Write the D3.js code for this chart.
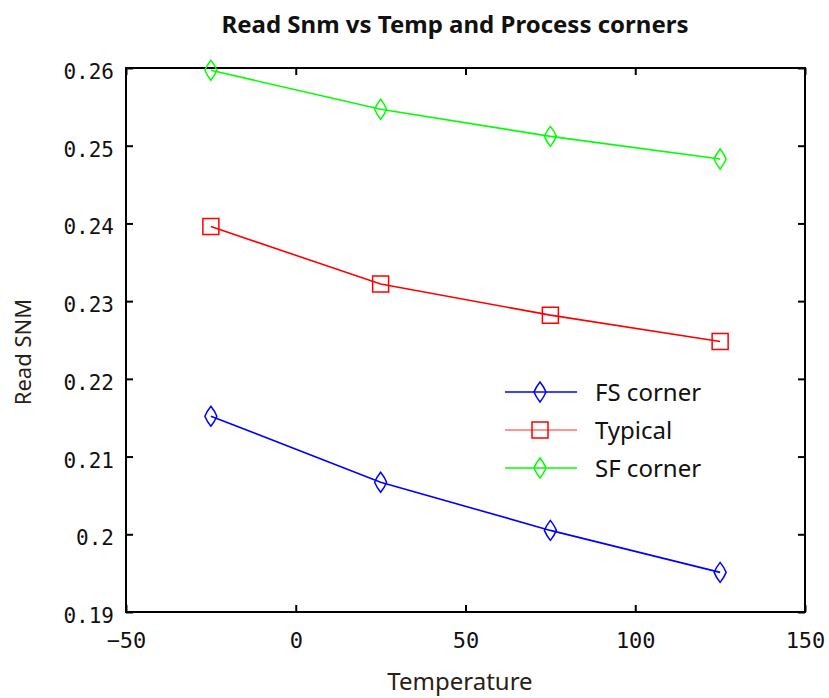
<!DOCTYPE html>
<html>
<head>
<meta charset="utf-8">
<script src="https://d3js.org/d3.v7.min.js"></script>
<style>
  body { margin: 0; background: #fff; }
  .title { font-family: "Liberation Sans Narrow", "Noto Sans", sans-serif; font-weight: bold; font-size: 24px; fill: #111; text-anchor: middle; }
  .ylab text { font-family: "DejaVu Sans Mono", monospace; font-size: 21px; fill: #111; }
  .xlab text { font-family: "DejaVu Sans Mono", monospace; font-size: 22px; fill: #111; }
  .axis path { display: none; }
  .axis line { stroke: #000; stroke-width: 2px; }
  .axisTitle { font-family: "Noto Sans", sans-serif; fill: #2b2016; }
  .legend text { font-family: "Noto Sans", sans-serif; font-size: 24px; fill: #111; }
</style>
</head>
<body>
<script>

// data
var temps = [-25, 25, 75, 125];
var fsCorner = [0.2152, 0.2067, 0.2005, 0.1951];
var typical = [0.2396, 0.2322, 0.2282, 0.2248];
var sfCorner = [0.2597, 0.2547, 0.2512, 0.2483];

var seriesNames = ["FS corner", "Typical", "SF corner"];
var xTicks = [-50, 0, 50, 100, 150];
var yTicks = [0.19, 0.2, 0.21, 0.22, 0.23, 0.24, 0.25, 0.26];
var yTickLabels = ["0.19", "0.2", "0.21", "0.22", "0.23", "0.24", "0.25", "0.26"];

var W = 829, H = 698;
var plot = { left: 126, right: 805, top: 68, bottom: 612 };

var svg = d3.select("body").append("svg")
  .attr("width", W)
  .attr("height", H);

var x = d3.scaleLinear().domain([-50, 150]).range([plot.left, plot.right]);
var y = d3.scaleLinear().domain([0.19, 0.26]).range([plot.bottom, plot.top]);

// title
svg.append("text")
  .attr("class", "title")
  .attr("x", 455)
  .attr("y", 33)
  .text("Read Snm vs Temp and Process corners");

//////////////////////// axes ////////////////////////
var inner = -7;

svg.append("g")
  .attr("class", "axis ylab")
  .attr("transform", "translate(" + plot.left + ",0)")
  .call(d3.axisLeft(y).tickValues(yTicks)
    .tickFormat(function(d, i) { return yTickLabels[i]; })
    .tickSizeInner(inner).tickSizeOuter(0).tickPadding(12))
  .selectAll("text").attr("dy", "0.5em");

svg.append("g")
  .attr("class", "axis xlab")
  .attr("transform", "translate(0," + plot.bottom + ")")
  .call(d3.axisBottom(x).tickValues(xTicks)
    .tickSizeInner(inner).tickSizeOuter(0).tickPadding(20));

svg.append("g")
  .attr("class", "axis")
  .attr("transform", "translate(0," + plot.top + ")")
  .call(d3.axisTop(x).tickValues(xTicks).tickFormat("")
    .tickSizeInner(inner).tickSizeOuter(0));

svg.append("g")
  .attr("class", "axis")
  .attr("transform", "translate(" + plot.right + ",0)")
  .call(d3.axisRight(y).tickValues(yTicks).tickFormat("")
    .tickSizeInner(inner).tickSizeOuter(0));

// box
svg.append("rect")
  .attr("x", plot.left).attr("y", plot.top)
  .attr("width", plot.right - plot.left)
  .attr("height", plot.bottom - plot.top)
  .attr("fill", "none")
  .attr("stroke", "#000")
  .attr("stroke-width", 2);

// axis titles
svg.append("text")
  .attr("class", "axisTitle")
  .attr("x", 460).attr("y", 690)
  .attr("text-anchor", "middle")
  .style("font-size", "24px")
  .text("Temperature");

svg.append("text")
  .attr("class", "axisTitle")
  .attr("transform", "translate(31,352) rotate(-90)")
  .attr("text-anchor", "middle")
  .style("font-size", "22px")
  .text("Read SNM");

//////////////////////// series ////////////////////////
var diamond = "M0,-10 Q4,-5 6,0 Q4,5 0,10 Q-4,5 -6,0 Q-4,-5 0,-10 Z";
var square = "M-8,-8 L8,-8 L8,8 L-8,8 Z";

var series = [
  { name: seriesNames[0], values: fsCorner, color: "#0000ff", marker: diamond },
  { name: seriesNames[1], values: typical, color: "#ff0000", marker: square },
  { name: seriesNames[2], values: sfCorner, color: "#00ff00", marker: diamond }
];

var line = d3.line()
  .x(function(d, i) { return x(temps[i]); })
  .y(function(d) { return y(d); });

series.forEach(function(s) {
  var g = svg.append("g");
  g.append("path")
    .attr("d", line(s.values))
    .attr("fill", "none")
    .attr("stroke", s.color)
    .attr("stroke-width", 1.6);
  g.selectAll(".mk")
    .data(s.values)
    .enter().append("path")
    .attr("class", "mk")
    .attr("d", s.marker)
    .attr("transform", function(d, i) { return "translate(" + x(temps[i]) + "," + y(d) + ")"; })
    .attr("fill", "none")
    .attr("stroke", s.color)
    .attr("stroke-width", 1.5);
});

//////////////////////// legend ////////////////////////
var legend = svg.append("g").attr("class", "legend");
series.forEach(function(s, i) {
  var cy = 392 + i * 38;
  legend.append("line")
    .attr("x1", 505).attr("x2", 577)
    .attr("y1", cy).attr("y2", cy)
    .attr("stroke", s.color)
    .attr("stroke-width", 1.6)
    .attr("opacity", i == 1 ? 0.55 : 1);
  legend.append("path")
    .attr("d", s.marker)
    .attr("transform", "translate(540," + cy + ")")
    .attr("fill", "none")
    .attr("stroke", s.color)
    .attr("stroke-width", 1.5);
  legend.append("text")
    .attr("x", 595)
    .attr("y", cy + 9)
    .text(s.name);
});

</script>
</body>
</html>
